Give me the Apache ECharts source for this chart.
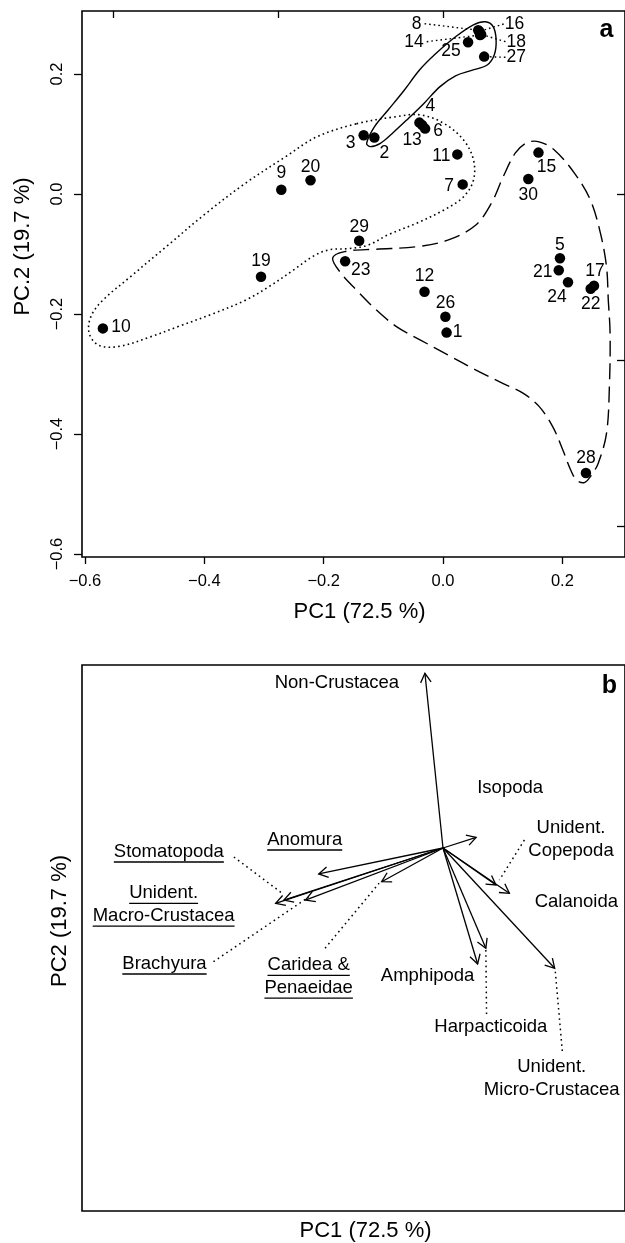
<!DOCTYPE html>
<html>
<head>
<meta charset="utf-8">
<script src="https://cdn.jsdelivr.net/npm/echarts@6/dist/echarts.min.js"></script>
<style>html,body{margin:0;padding:0;background:#fff}#c{width:625px;height:1243px}</style>
</head>
<body>
<div id="c"></div>
<script>
// ===================== DATA =====================
// Panel a: PCA site scores
const siteIds = ['1','2','3','4','5','6','7','8','9','10','11','12','13','14','15','16','17','18','19','20','21','22','23','24','25','26','27','28','29','30'];
const sitePC1 = [0.006,-0.115,-0.133,-0.0395,0.196,-0.030,0.033,0.059,-0.271,-0.570,0.024,-0.031,-0.035,0.062,0.160,0.061,0.253,0.064,-0.305,-0.222,0.194,0.2475,-0.164,0.2095,0.042,0.004,0.069,0.2395,-0.1405,0.143];
const sitePC2 = [-0.231,0.094,0.098,0.119,-0.107,0.109,0.016,0.273,0.007,-0.224,0.066,-0.163,0.115,0.265,0.069,0.271,-0.153,0.266,-0.138,0.023,-0.127,-0.158,-0.112,-0.147,0.253,-0.2045,0.229,-0.465,-0.078,0.025];

// Group outlines (PC1, PC2)
const hullSolid = [[-0.128,0.0845],[-0.115,0.112],[-0.092,0.140],[-0.065,0.173],[-0.039,0.207],[-0.012,0.234],[0.021,0.262],[0.051,0.282],[0.071,0.287],[0.084,0.279],[0.089,0.257],[0.086,0.232],[0.074,0.215],[0.048,0.206],[0.021,0.197],[-0.005,0.179],[-0.032,0.151],[-0.058,0.126],[-0.085,0.101],[-0.105,0.0845],[-0.1215,0.079]];
const hullDotted = [[-0.145,0.117],[-0.078,0.129],[-0.039,0.132],[0.001,0.118],[0.0345,0.090],[0.051,0.057],[0.051,0.023],[0.0345,-0.0045],[0.001,-0.027],[-0.045,-0.049],[-0.092,-0.068],[-0.125,-0.085],[-0.158,-0.091],[-0.191,-0.093],[-0.218,-0.104],[-0.251,-0.127],[-0.291,-0.154],[-0.331,-0.177],[-0.384,-0.199],[-0.444,-0.221],[-0.490,-0.238],[-0.543,-0.254],[-0.577,-0.252],[-0.593,-0.232],[-0.590,-0.204],[-0.570,-0.177],[-0.524,-0.138],[-0.464,-0.088],[-0.397,-0.032],[-0.331,0.018],[-0.264,0.062],[-0.211,0.0955]];
const hullDashed = [[-0.185,-0.107],[-0.165,-0.096],[-0.112,-0.092],[-0.045,-0.088],[0.008,-0.077],[0.0545,-0.052],[0.081,-0.0155],[0.101,0.029],[0.121,0.068],[0.141,0.0856],[0.161,0.087],[0.187,0.073],[0.2205,0.0345],[0.247,-0.010],[0.264,-0.066],[0.274,-0.121],[0.277,-0.177],[0.280,-0.232],[0.279,-0.316],[0.274,-0.399],[0.260,-0.449],[0.247,-0.471],[0.237,-0.481],[0.224,-0.477],[0.214,-0.460],[0.201,-0.427],[0.184,-0.388],[0.161,-0.354],[0.134,-0.332],[0.101,-0.316],[0.0545,-0.293],[0.008,-0.268],[-0.0385,-0.243],[-0.078,-0.221],[-0.112,-0.193],[-0.145,-0.160],[-0.171,-0.132]];

// Panel b: variable loadings (arrow tips)
const loadNames = ['Non-Crustacea','Isopoda','Anomura','Stomatopoda','Unident.\nMacro-Crustacea','Brachyura','Caridea &\nPenaeidae','Unident.\nCopepoda','Calanoida','Amphipoda','Harpacticoida','Unident.\nMicro-Crustacea'];
const loadPC1 = [-0.0303,0.0555,-0.2083,-0.2667,-0.2805,-0.2305,-0.1028,0.0888,0.1112,0.058,0.0718,0.1872];
const loadPC2 = [0.2912,0.0178,-0.0433,-0.0867,-0.0922,-0.0867,-0.0562,-0.0617,-0.0755,-0.1933,-0.1672,-0.2005];

// Axis ticks
const mainTicks = [-0.6,-0.4,-0.2,0,0.2];
const loadTicks = [-1,-0.5,0];

// ===================== STYLE / LAYOUT =====================
const FF = '"Liberation Sans", Arial, Helvetica, sans-serif';
const AX_MIN = -0.605, AX_MAX = 0.305;
const LOAD_K = 0.553; // loading-axis scale relative to score axis
const ptLabelSize = 17.5, arrLabelSize = 18.5, tickSize = 16.5;

const siteLabelOffset = {
 '1':[11,0],'2':[10,16],'3':[-13,8],'4':[11,-16],'5':[0,-13],'6':[13,3],'7':[-13.5,2],'8':[-61.5,-6.5],
 '9':[0,-16.5],'10':[18,-1],'11':[-16,2],'12':[0,-15.5],'13':[-10,15],'14':[-66,6.7],'15':[8,15],
 '16':[35,-7.4],'17':[1,-15],'18':[35,7.3],'19':[0,-16],'20':[0,-13.5],'21':[-16,2],'22':[0,15],
 '23':[15.5,9],'24':[-11,15],'25':[-17,8.5],'26':[0,-13.5],'27':[32,0.7],'28':[0,-15],'29':[0,-14],'30':[0,16]
};
const leaderSites = ['8','14','16','18','27'];

const arrowLabelLayout = [
 {d:[-88,10]},
 {d:[34,-49]},
 {d:[-14,-34], u:true},
 {d:[-115,-48], u:true, lead:[[-50,-43],[-1.6,-6.7]]},
 {d:[-112,1.4], u:true},
 {d:[-141,64], u:true, lead:[[-92,61.7],[3.3,-3]]},
 {d:[-73,95], u:true, lead:[[-56.6,66.6],[-2.6,1.6]]},
 {d:[75,-45.5], lead:[[28.4,-45],[3.4,-5]]},
 {d:[67,8.4]},
 {d:[-50,12]},
 {d:[5,79], lead:[[0,1.7],[0.7,66.7]]},
 {d:[-3,110], lead:[[0.6,3.4],[7.8,85]]}
];

const mctx = document.createElement('canvas').getContext('2d');
function textW(s, size, bold){ mctx.font = (bold?'bold ':'') + size + 'px ' + FF; return mctx.measureText(s).width; }
function fmt(v){ if (Math.abs(v) < 1e-9) return '0.0'; return (v<0?'\u2212':'') + Math.abs(v).toFixed(1); }

function hullSeries(arr, dash, lw, name){
  return {
    type:'custom', name:name, xAxisIndex:0, yAxisIndex:0, clip:false, z:1, silent:true,
    data: arr,
    renderItem: function(params, api){
      if (params.dataIndex !== 0) return null;
      const pts = arr.map(p => api.coord(p));
      return {type:'polygon', shape:{points:pts, smooth:0.35},
        style:{fill:'none', stroke:'#000', lineWidth:lw, lineDash:dash}};
    }
  };
}

const chart = echarts.init(document.getElementById('c'), null, {renderer:'canvas'});

const scoreData = siteIds.map((id,i)=>({name:id, value:[sitePC1[i], sitePC2[i]],
  label:{offset: siteLabelOffset[id]}}));

const noLine = {show:false, onZero:false};

const option = {
  animation:false,
  backgroundColor:'#fff',
  grid:[
    {left:82, top:11, width:546, height:546, show:true, borderColor:'#000', borderWidth:1.6, backgroundColor:'transparent'},
    {left:82, top:665, width:546, height:546, show:true, borderColor:'#000', borderWidth:1.6, backgroundColor:'transparent'}
  ],
  xAxis:[
    {type:'value', gridIndex:0, min:AX_MIN, max:AX_MAX, position:'bottom',
     axisLine:noLine, splitLine:{show:false},
     axisTick:{show:true, length:7, lineStyle:{color:'#000', width:1.3}, customValues:mainTicks},
     axisLabel:{show:true, customValues:mainTicks, formatter:fmt, fontSize:tickSize, fontFamily:FF, color:'#000', margin:16},
     name:'PC1 (72.5 %)', nameLocation:'middle', nameGap:44,
     nameTextStyle:{fontSize:22, fontFamily:FF, color:'#000', padding:[0,0,0,12]}},
    {type:'value', gridIndex:0, min:AX_MIN/LOAD_K, max:AX_MAX/LOAD_K, position:'top',
     axisLine:noLine, splitLine:{show:false},
     axisTick:{show:true, inside:true, length:7, lineStyle:{color:'#000', width:1.3}, customValues:loadTicks},
     axisLabel:{show:false}},
    {type:'value', gridIndex:1, min:AX_MIN, max:AX_MAX, position:'bottom',
     axisLine:noLine, splitLine:{show:false}, axisTick:{show:false}, axisLabel:{show:false},
     name:'PC1 (72.5 %)', nameLocation:'middle', nameGap:9,
     nameTextStyle:{fontSize:22, fontFamily:FF, color:'#000', padding:[0,0,0,24]}}
  ],
  yAxis:[
    {type:'value', gridIndex:0, min:AX_MIN, max:AX_MAX, position:'left',
     axisLine:noLine, splitLine:{show:false},
     axisTick:{show:true, length:8, lineStyle:{color:'#000', width:1.3}, customValues:mainTicks},
     axisLabel:{show:true, customValues:mainTicks, formatter:fmt, rotate:90, fontSize:tickSize, fontFamily:FF, color:'#000', margin:16},
     name:'PC.2 (19.7 %)', nameLocation:'middle', nameGap:48,
     nameTextStyle:{fontSize:22, fontFamily:FF, color:'#000', padding:[0,0,0,75]}},
    {type:'value', gridIndex:0, min:AX_MIN/LOAD_K, max:AX_MAX/LOAD_K, position:'right',
     axisLine:noLine, splitLine:{show:false},
     axisTick:{show:true, inside:true, length:8, lineStyle:{color:'#000', width:1.3}, customValues:loadTicks},
     axisLabel:{show:false}},
    {type:'value', gridIndex:1, min:AX_MIN, max:AX_MAX, position:'left',
     axisLine:noLine, splitLine:{show:false}, axisTick:{show:false}, axisLabel:{show:false},
     name:'PC2 (19.7 %)', nameLocation:'middle', nameGap:11,
     nameTextStyle:{fontSize:22, fontFamily:FF, color:'#000', padding:[0,0,0,34]}}
  ],
  graphic:[
    {type:'text', x:613.5, y:30.6, style:{text:'a', font:'bold 25px '+FF, fill:'#000', align:'right', verticalAlign:'middle', textAlign:'right', textVerticalAlign:'middle'}},
    {type:'text', x:617, y:686.3, style:{text:'b', font:'bold 25px '+FF, fill:'#000', align:'right', verticalAlign:'middle', textAlign:'right', textVerticalAlign:'middle'}}
  ],
  series:[
    hullSeries(hullSolid, null, 1.4, 'solid'),
    hullSeries(hullDotted, [1.6,3.2], 1.6, 'dotted'),
    hullSeries(hullDashed, [16,7], 1.4, 'dashed'),
    {
      type:'custom', name:'leaders', xAxisIndex:0, yAxisIndex:0, clip:false, z:2, silent:true,
      data: leaderSites.map(id => { const i = siteIds.indexOf(id); return [sitePC1[i], sitePC2[i], i]; }),
      renderItem: function(params, api){
        const i = api.value(2); const id = siteIds[i];
        const p = api.coord([api.value(0), api.value(1)]);
        const off = siteLabelOffset[id];
        const w = textW(id, ptLabelSize);
        const cx = p[0]+off[0], cy = p[1]+off[1];
        const sx = off[0] < 0 ? cx + w/2 + 3 : cx - w/2 - 1;
        return {type:'line', shape:{x1:sx, y1:cy, x2:p[0], y2:p[1]},
          style:{stroke:'#000', lineWidth:1.4, lineDash:[1.6,3]}};
      }
    },
    {
      type:'scatter', name:'sites', xAxisIndex:0, yAxisIndex:0, z:3, silent:true,
      symbol:'circle', symbolSize:10.5, itemStyle:{color:'#000', opacity:1},
      label:{show:true, position:'inside', formatter:'{b}', fontSize:ptLabelSize, fontFamily:FF, color:'#000', opacity:1},
      emphasis:{disabled:true},
      data: scoreData
    },
    {
      type:'custom', name:'loadings', xAxisIndex:2, yAxisIndex:2, clip:false, z:2, silent:true,
      data: loadPC1.map((x,i)=>[x, loadPC2[i], i]),
      renderItem: function(params, api){
        const i = api.value(2);
        const o = api.coord([0,0]);
        const t = api.coord([api.value(0), api.value(1)]);
        const ang = Math.atan2(t[1]-o[1], t[0]-o[0]);
        const L = 10.5, A = Math.PI/6;
        const h1 = [t[0]-L*Math.cos(ang-A), t[1]-L*Math.sin(ang-A)];
        const h2 = [t[0]-L*Math.cos(ang+A), t[1]-L*Math.sin(ang+A)];
        const ch = [
          {type:'line', shape:{x1:o[0], y1:o[1], x2:t[0], y2:t[1]}, style:{stroke:'#000', lineWidth:1.3}},
          {type:'polyline', shape:{points:[h1,t,h2]}, style:{stroke:'#000', fill:'none', lineWidth:1.3}}
        ];
        const lay = arrowLabelLayout[i];
        const lines = loadNames[i].split('\n');
        const lh = 22.7;
        const cx = t[0]+lay.d[0];
        const cy0 = t[1]+lay.d[1] - (lines.length-1)*lh/2;
        lines.forEach((s,k)=>{
          const y = cy0 + k*lh;
          ch.push({type:'text', x:cx, y:y, style:{text:s, font:arrLabelSize+'px '+FF, fill:'#000',
            align:'center', verticalAlign:'middle', textAlign:'center', textVerticalAlign:'middle'}});
          if (lay.u){
            const w = textW(s, arrLabelSize);
            ch.push({type:'line', shape:{x1:cx-w/2, y1:y+10, x2:cx+w/2, y2:y+10}, style:{stroke:'#000', lineWidth:1.3}});
          }
        });
        if (lay.lead){
          ch.push({type:'line', shape:{x1:t[0]+lay.lead[0][0], y1:t[1]+lay.lead[0][1], x2:t[0]+lay.lead[1][0], y2:t[1]+lay.lead[1][1]},
            style:{stroke:'#000', lineWidth:1.5, lineDash:[1.6,3.6]}});
        }
        return {type:'group', children:ch};
      }
    }
  ]
};
chart.setOption(option);
</script>
</body>
</html>
